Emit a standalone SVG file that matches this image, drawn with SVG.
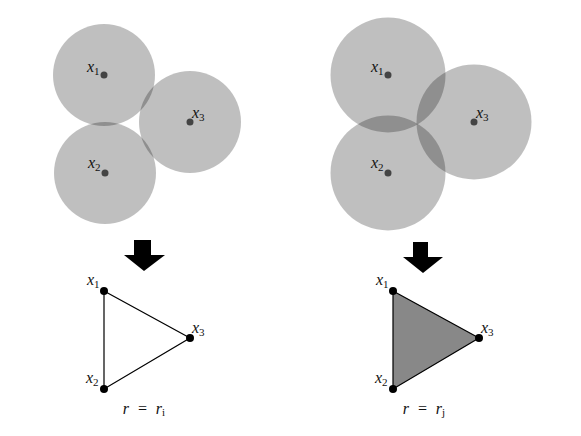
<svg xmlns="http://www.w3.org/2000/svg" width="581" height="436" viewBox="0 0 581 436">
<style>
.disk{fill:#000;fill-opacity:0.25}
.c{fill:#444}
.v{fill:#000}
text{font-family:'Liberation Serif','Times New Roman',serif;font-style:italic;font-size:16px;fill:#111}
.sub{font-size:11px;font-style:normal}
.edge{stroke:#000;stroke-width:1.2;fill:none}
.arrow{fill:#000}
</style>
<rect width="581" height="436" fill="#fff"/>
<g id="left-disks">
<g id="L-x1"><circle class="disk" cx="104" cy="75" r="51"/><circle class="c" cx="104" cy="75" r="3.5"/><text x="87" y="72" font-family="Liberation Serif, serif">x<tspan class="sub" dy="3">1</tspan></text></g>
<g id="L-x2"><circle class="disk" cx="105" cy="173" r="51"/><circle class="c" cx="105" cy="173" r="3.5"/><text x="88" y="168" font-family="Liberation Serif, serif">x<tspan class="sub" dy="3">2</tspan></text></g>
<g id="L-x3"><circle class="disk" cx="190" cy="122" r="51"/><circle class="c" cx="190" cy="122" r="3.5"/><text x="192" y="118" font-family="Liberation Serif, serif">x<tspan class="sub" dy="3">3</tspan></text></g>
</g>
<g id="right-disks">
<g id="R-x1"><circle class="disk" cx="388" cy="75" r="57.5"/><circle class="c" cx="388" cy="75" r="3.5"/><text x="371" y="72" font-family="Liberation Serif, serif">x<tspan class="sub" dy="3">1</tspan></text></g>
<g id="R-x2"><circle class="disk" cx="388" cy="173" r="57.5"/><circle class="c" cx="388" cy="173" r="3.5"/><text x="371" y="168" font-family="Liberation Serif, serif">x<tspan class="sub" dy="3">2</tspan></text></g>
<g id="R-x3"><circle class="disk" cx="474" cy="122" r="57.5"/><circle class="c" cx="474" cy="122" r="3.5"/><text x="476" y="118" font-family="Liberation Serif, serif">x<tspan class="sub" dy="3">3</tspan></text></g>
</g>
<g id="arrows">
<path class="arrow" d="M134 240 H151 V255 H165 L144 271 L124 255 H134 Z"/>
<path class="arrow" d="M413 242 H428 V257 H443 L423 273 L403 257 H413 Z"/>
</g>
<g id="connectors">
<path class="edge" d="M104 291 L104 389 L190 338 Z"/>
<path d="M393 291 L393 389 L479 338 Z" fill="#888" stroke="#000" stroke-width="1.2"/>
</g>
<g id="left-complex">
<g id="T-L-x1"><circle class="v" cx="104" cy="291" r="4"/><text x="87" y="285" font-family="Liberation Serif, serif">x<tspan class="sub" dy="3">1</tspan></text></g>
<g id="T-L-x2"><circle class="v" cx="104" cy="389" r="4"/><text x="86" y="383" font-family="Liberation Serif, serif">x<tspan class="sub" dy="3">2</tspan></text></g>
<g id="T-L-x3"><circle class="v" cx="190" cy="338" r="4"/><text x="192" y="333" font-family="Liberation Serif, serif">x<tspan class="sub" dy="3">3</tspan></text></g>
</g>
<g id="right-complex">
<g id="T-R-x1"><circle class="v" cx="393" cy="291" r="4"/><text x="376" y="285" font-family="Liberation Serif, serif">x<tspan class="sub" dy="3">1</tspan></text></g>
<g id="T-R-x2"><circle class="v" cx="393" cy="389" r="4"/><text x="375" y="383" font-family="Liberation Serif, serif">x<tspan class="sub" dy="3">2</tspan></text></g>
<g id="T-R-x3"><circle class="v" cx="479" cy="338" r="4"/><text x="481" y="333" font-family="Liberation Serif, serif">x<tspan class="sub" dy="3">3</tspan></text></g>
</g>
<text x="144" y="414" text-anchor="middle" font-family="Liberation Serif, serif" xml:space="preserve">r  =  r<tspan class="sub" font-style="italic" dy="2">i</tspan></text>
<text x="424" y="414" text-anchor="middle" font-family="Liberation Serif, serif" xml:space="preserve">r  =  r<tspan class="sub" font-style="italic" dy="2">j</tspan></text>
</svg>
